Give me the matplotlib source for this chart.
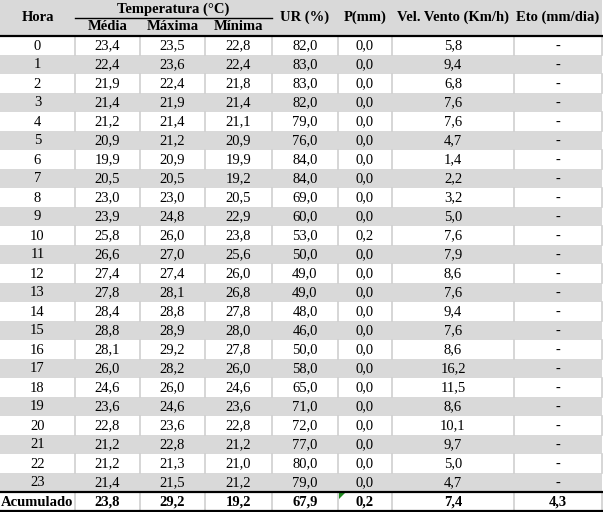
import matplotlib
matplotlib.use("Agg")
import matplotlib.pyplot as plt
from matplotlib.patches import Rectangle, Polygon

# table data
horas = list(range(24))
media = [23.4, 22.4, 21.9, 21.4, 21.2, 20.9, 19.9, 20.5, 23.0, 23.9, 25.8, 26.6,
         27.4, 27.8, 28.4, 28.8, 28.1, 26.0, 24.6, 23.6, 22.8, 21.2, 21.2, 21.4]
maxima = [23.5, 23.6, 22.4, 21.9, 21.4, 21.2, 20.9, 20.5, 23.0, 24.8, 26.0, 27.0,
          27.4, 28.1, 28.8, 28.9, 29.2, 28.2, 26.0, 24.6, 23.6, 22.8, 21.3, 21.5]
minima = [22.8, 22.4, 21.8, 21.4, 21.1, 20.9, 19.9, 19.2, 20.5, 22.9, 23.8, 25.6,
          26.0, 26.8, 27.8, 28.0, 27.8, 26.0, 24.6, 23.6, 22.8, 21.2, 21.0, 21.2]
ur = [82.0, 83.0, 83.0, 82.0, 79.0, 76.0, 84.0, 84.0, 69.0, 60.0, 53.0, 50.0,
      49.0, 49.0, 48.0, 46.0, 50.0, 58.0, 65.0, 71.0, 72.0, 77.0, 80.0, 79.0]
chuva = [0.0] * 10 + [0.2] + [0.0] * 13
vento = [5.8, 9.4, 6.8, 7.6, 7.6, 4.7, 1.4, 2.2, 3.2, 5.0, 7.6, 7.9,
         8.6, 7.6, 9.4, 7.6, 8.6, 16.2, 11.5, 8.6, 10.1, 9.7, 5.0, 4.7]
eto = ["-"] * 24
acumulado = ["Acumulado", 23.8, 29.2, 19.2, 67.9, 0.2, 7.4, 4.3]

top_headers = ["Hora", "Temperatura (°C)", "UR (%)", "P(mm)", "Vel. Vento (Km/h)", "Eto (mm/dia)"]
sub_headers = ["Média", "Máxima", "Mínima"]

# layout (pixels)
W, H = 603, 512
col_edges = [0, 75, 140, 205, 272, 338, 392, 514, 602]
header_h = 36
row_h = 19.0
stripe = "#d9d9d9"
grid = "#d0d0d0"
font = "Liberation Serif"
fs = 10.5


def fmt(v):
    if isinstance(v, str):
        return v
    return f"{v:.1f}".replace(".", ",")


fig = plt.figure(figsize=(W / 100, H / 100), dpi=100)
ax = fig.add_axes([0, 0, 1, 1])
ax.set_xlim(0, W)
ax.set_ylim(H, 0)
ax.axis("off")

# header background
ax.add_patch(Rectangle((0, 0), col_edges[-1], header_h, color=stripe, lw=0))

rows = []
for i in range(24):
    rows.append([str(horas[i]), fmt(media[i]), fmt(maxima[i]), fmt(minima[i]),
                 fmt(ur[i]), fmt(chuva[i]), fmt(vento[i]), eto[i]])

for i, row in enumerate(rows):
    y0 = header_h + i * row_h
    if i % 2 == 1:
        ax.add_patch(Rectangle((0, y0), col_edges[-1], row_h, color=stripe, lw=0))
    else:
        for x in col_edges[1:]:
            ax.plot([x, x], [y0, y0 + row_h], color=grid, lw=1.2)
    for j, txt in enumerate(row):
        xc = (col_edges[j] + col_edges[j + 1]) / 2
        ax.text(xc, y0 + row_h / 2 + 0.5, txt, ha="center", va="center",
                fontsize=fs, family=font)

# acumulado row
y0 = header_h + 24 * row_h
for x in col_edges[1:]:
    ax.plot([x, x], [y0, y0 + row_h], color=grid, lw=1.2)
for j, v in enumerate(acumulado):
    xc = (col_edges[j] + col_edges[j + 1]) / 2
    ax.text(xc, y0 + row_h / 2 + 0.5, fmt(v), ha="center", va="center",
            fontsize=fs, family=font, fontweight="bold")
# excel marker
px = col_edges[5] + 1
ax.add_patch(Polygon([[px, y0 + 1], [px + 6, y0 + 1], [px, y0 + 7]], color="#1f8a1f", lw=0))

# header texts
hx = [(col_edges[0] + col_edges[1]) / 2, (col_edges[1] + col_edges[4]) / 2,
      (col_edges[4] + col_edges[5]) / 2, (col_edges[5] + col_edges[6]) / 2,
      (col_edges[6] + col_edges[7]) / 2, (col_edges[7] + col_edges[8]) / 2]
for k, txt in enumerate(top_headers):
    yy = 9.5 if k == 1 else 17.5
    ax.text(hx[k], yy, txt, ha="center", va="center", fontsize=fs,
            family=font, fontweight="bold")
for j, txt in enumerate(sub_headers):
    xc = (col_edges[j + 1] + col_edges[j + 2]) / 2
    ax.text(xc, 27, txt, ha="center", va="center", fontsize=fs,
            family=font, fontweight="bold")
ax.plot([col_edges[1], col_edges[4]], [17.5, 17.5], color="black", lw=1)

# heavy rules
ax.plot([0, col_edges[-1]], [header_h, header_h], color="black", lw=1.6)
ax.plot([0, col_edges[-1]], [y0, y0], color="black", lw=1.6)
ax.plot([0, col_edges[-1]], [y0 + row_h, y0 + row_h], color="black", lw=1.6)

fig.savefig("out.png", dpi=100)
